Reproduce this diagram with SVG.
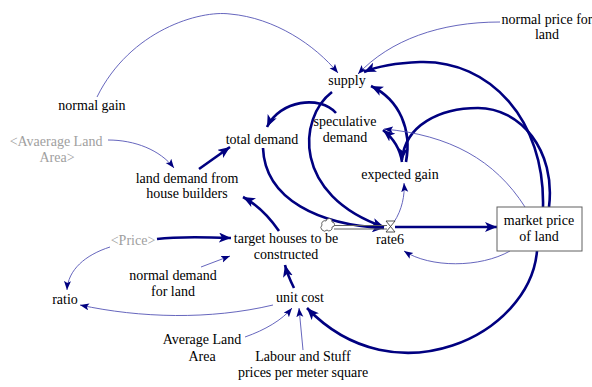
<svg xmlns="http://www.w3.org/2000/svg" width="592" height="387" viewBox="0 0 592 387">
<style>
text{font-family:'Liberation Serif','Times New Roman',serif;font-size:14px;fill:#000;text-anchor:middle}
text.shadow{fill:#a0a0a0}
.thick{fill:none;stroke:#000080;stroke-width:2.6;marker-end:url(#ah)}
.thin{fill:none;stroke:#5555b5;stroke-width:0.9;marker-end:url(#at)}
</style>
<defs>
<marker id="ah" markerUnits="userSpaceOnUse" markerWidth="14" markerHeight="10" refX="12" refY="5" orient="auto"><path d="M0,0 L12,5 L0,10 L3,5 z" fill="#000080"/></marker>
<marker id="at" markerUnits="userSpaceOnUse" markerWidth="10" markerHeight="8" refX="9" refY="3.5" orient="auto"><path d="M0,0 L9,3.5 L0,7 L2,3.5 z" fill="#000080"/></marker>
</defs>
<rect width="592" height="387" fill="#fff"/>
<g id="connectors">
<path class="thin" d="M97,97 C130,30 200,10 230,14 C275,18 315,45 338,73"/>
<path class="thin" d="M500,22 C440,22 390,40 358,74"/>
<path class="thick" d="M543,207 C545,120 490,60 420,62 C395,63 378,66 364,72"/>
<path class="thick" d="M549,207 C556,150 520,108 478,108 C440,108 405,125 402,160"/>
<path class="thick" d="M406,162 C412,130 400,100 371,86"/>
<path class="thick" d="M402,162 C400,148 393,138 383,130"/>
<path class="thin" d="M525,207 C495,160 450,135 384,129"/>
<path class="thick" d="M336,113 C320,95 280,100 267,127"/>
<path class="thick" d="M332,92 C298,118 292,195 384,227"/>
<path class="thick" d="M263,148 C265,200 320,225 384,228"/>
<path class="thick" d="M199,169 L230,147"/>
<path class="thin" d="M108,140 C135,140 160,150 174,168"/>
<path class="thick" d="M279,231 C270,218 258,205 243,197"/>
<path class="thick" d="M157,239 C180,236 205,237 231,238"/>
<path class="thin" d="M110,247 C85,255 68,270 67,290"/>
<path class="thin" d="M201,267 L230,256"/>
<path class="thick" d="M294,288 C290,280 287,273 285,265"/>
<path class="thin" d="M273,305 C210,320 140,318 80,305"/>
<path class="thin" d="M245,337 C265,330 282,320 292,308"/>
<path class="thin" d="M303,350 L299,308"/>
<path class="thick" d="M537,251 C530,335 395,400 307,308"/>
<path class="thin" d="M510,251 C480,268 430,268 404,251"/>
<path class="thin" d="M394,222 C402,210 405,195 404,183"/>
</g>
<g id="flow-rate6">
<path d="M322,225 a3,3 0 0 1 4,-4 a3,3 0 0 1 6,1 a2.5,2.5 0 0 1 0,5 a3,3 0 0 1 -5,3 a3,3 0 0 1 -5,-5 z" fill="#fff" stroke="#404040" stroke-width="0.8"/>
<path d="M334,225.5 L387,225.5 M334,229 L387,229" stroke="#606060" stroke-width="1" fill="none"/>
<path d="M386,221 L395,221 L386,232 L395,232 z" fill="#fff" stroke="#404040" stroke-width="0.9"/>
<path class="thick" d="M395,227 L497,227" stroke-width="3"/>
</g>
<g id="supply"><text x="347" y="85">supply</text></g>
<g id="normal-gain"><text x="92" y="110">normal gain</text></g>
<g id="normal-price-for-land"><text x="547" y="24">normal price for</text><text x="547" y="39">land</text></g>
<g id="speculative-demand"><text x="345" y="126">speculative</text><text x="345" y="142">demand</text></g>
<g id="total-demand"><text x="262" y="144">total demand</text></g>
<g id="expected-gain"><text x="400" y="179">expected gain</text></g>
<g id="avaerage-land-area"><text class="shadow" x="56" y="146">&lt;Avaerage Land</text><text class="shadow" x="57" y="162">Area&gt;</text></g>
<g id="land-demand"><text x="187" y="183">land demand from</text><text x="187" y="198">house builders</text></g>
<g id="price"><text class="shadow" x="133" y="245">&lt;Price&gt;</text></g>
<g id="target-houses"><text x="286" y="243">target houses to be</text><text x="286" y="259">constructed</text></g>
<g id="rate6"><text x="390" y="244">rate6</text></g>
<g id="market-price-of-land"><rect x="497" y="207" width="85" height="44" fill="#fff" stroke="#606060" stroke-width="1"/><text x="539" y="225">market price</text><text x="539" y="241">of land</text></g>
<g id="ratio"><text x="65" y="304">ratio</text></g>
<g id="normal-demand"><text x="173" y="280">normal demand</text><text x="173" y="296">for land</text></g>
<g id="unit-cost"><text x="300" y="302">unit cost</text></g>
<g id="average-land-area"><text x="202" y="344">Average Land</text><text x="202" y="361">Area</text></g>
<g id="labour"><text x="303" y="361">Labour and Stuff</text><text x="303" y="377">prices per meter square</text></g>
</svg>
